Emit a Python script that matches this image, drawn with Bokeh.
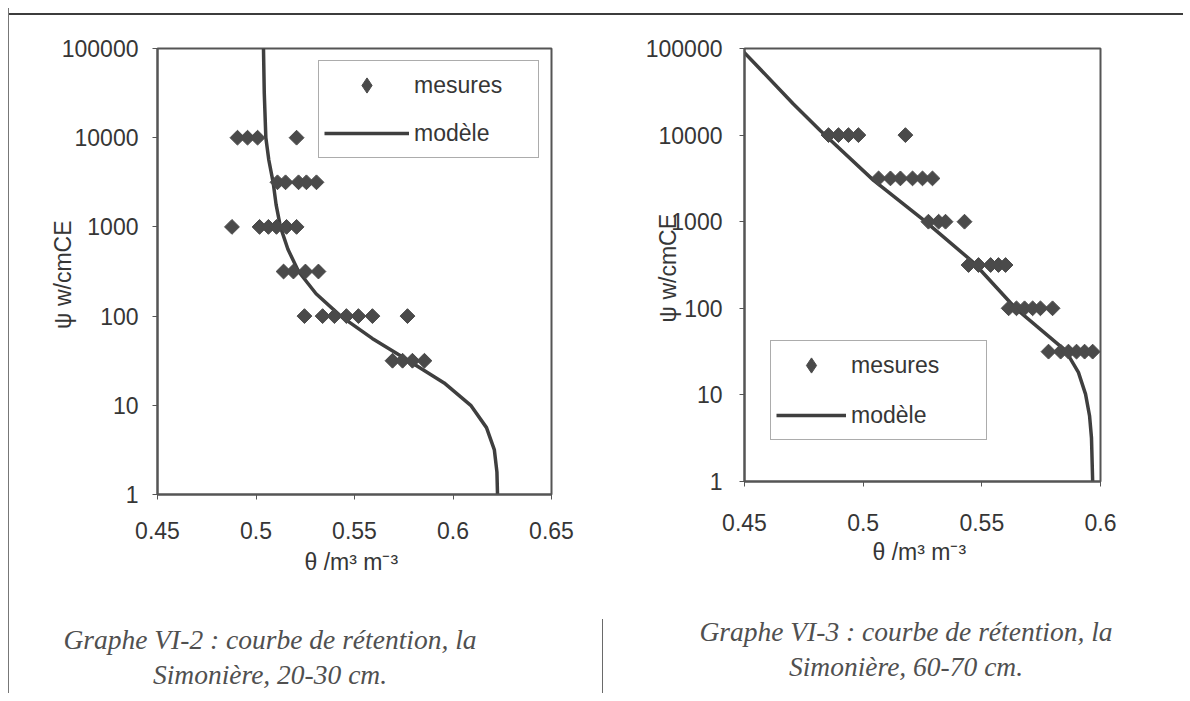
from bokeh.plotting import figure
from bokeh.models import (Range1d, FixedTicker, CustomJSTickFormatter, Legend,
                          LegendItem, Div)
from bokeh.layouts import row, column
from bokeh.embed import file_html
from bokeh.resources import INLINE

# ---------------- data ----------------
# Graphe VI-2 (20-30 cm)
meas_theta_2 = [0.4906, 0.4957, 0.5008, 0.5206,
                0.5109, 0.5150, 0.5216, 0.5256, 0.5307,
                0.4878, 0.5018, 0.5063, 0.5104, 0.5155, 0.5206,
                0.5140, 0.5190, 0.5251, 0.5317,
                0.5246, 0.5338, 0.5398, 0.5459, 0.5520, 0.5591, 0.5769,
                0.5693, 0.5744, 0.5794, 0.5855]
meas_psi_2 = [10000, 10000, 10000, 10000,
              3162, 3162, 3162, 3162, 3162,
              1000, 1000, 1000, 1000, 1000, 1000,
              316, 316, 316, 316,
              100, 100, 100, 100, 100, 100, 100,
              31.6, 31.6, 31.6, 31.6]
model_psi_2 = [1, 1.78, 3.16, 5.62, 10, 17.8, 31.6, 56.2, 100, 178, 316, 562,
               1000, 1778, 3162, 5623, 10000, 31623, 100000]
model_theta_2 = [0.6226, 0.6223, 0.6210, 0.6170, 0.6090, 0.5955, 0.5775, 0.5590,
                 0.5430, 0.5305, 0.5216, 0.5162, 0.5124, 0.5102, 0.5087, 0.5065,
                 0.5050, 0.5042, 0.5038]

# Graphe VI-3 (60-70 cm)
meas_theta_3 = [0.4854, 0.4896, 0.4938, 0.4980, 0.5178,
                0.5065, 0.5115, 0.5157, 0.5208, 0.5250, 0.5292,
                0.5275, 0.5318, 0.5347, 0.5427,
                0.5444, 0.5486, 0.5537, 0.5570, 0.5600,
                0.5613, 0.5646, 0.5680, 0.5714, 0.5747, 0.5798,
                0.5781, 0.5832, 0.5865, 0.5899, 0.5933, 0.5967]
meas_psi_3 = [10000, 10000, 10000, 10000, 10000,
              3162, 3162, 3162, 3162, 3162, 3162,
              1000, 1000, 1000, 1000,
              316, 316, 316, 316, 316,
              100, 100, 100, 100, 100, 100,
              31.6, 31.6, 31.6, 31.6, 31.6, 31.6]
model_psi_3 = [100000, 22900, 11200, 3000, 1050, 338, 100, 32.4, 18.2, 10.2,
               5.7, 3.2, 1]
model_theta_3 = [0.4483, 0.4706, 0.4820, 0.5044, 0.5254, 0.5465, 0.5642, 0.5853,
                 0.5907, 0.5937, 0.5954, 0.5962, 0.5967]

y_ticks = [1, 10, 100, 1000, 10000, 100000]
x_ticks_2 = [0.45, 0.5, 0.55, 0.6, 0.65]
x_ticks_3 = [0.45, 0.5, 0.55, 0.6]

x_label = "θ  /m³ m⁻³"
y_label = "ψ  w/cmCE"
legend_labels = ["mesures", "modèle"]
caption_2 = ["Graphe VI-2 : courbe de rétention, la", "Simonière, 20-30 cm."]
caption_3 = ["Graphe VI-3 : courbe de rétention, la", "Simonière, 60-70 cm."]

# ---------------- styling ----------------
FONT = "Liberation Sans"
TXT = "#363636"
MARK = "#4a4a4a"
LINE = "#3f3f3f"
FRAME = "#555555"
BELOW = 125


def make_chart(width, height, xr, xticks, ml, mr, mt, mx, mpsi,
               mod_x, mod_y, leg_loc, glyph_w, label_w, spacing,
               ystand, ylab_stand, xstand, xlab_stand):
    p = figure(width=width, height=height, x_range=Range1d(*xr),
               y_range=Range1d(1, 100000), y_axis_type="log",
               output_backend="svg", toolbar_location=None,
               min_border_left=ml, min_border_right=mr, min_border_top=mt,
               min_border_bottom=BELOW, background_fill_color="white",
               border_fill_color="white", outline_line_color=FRAME,
               outline_line_width=2)
    p.grid.visible = False
    fmt = CustomJSTickFormatter(code="return String(tick);")
    p.xaxis.ticker = FixedTicker(ticks=xticks)
    p.yaxis.ticker = FixedTicker(ticks=y_ticks)
    for ax in (p.xaxis[0], p.yaxis[0]):
        ax.formatter = fmt
        ax.axis_line_color = FRAME
        ax.axis_line_width = 2
        ax.major_tick_line_color = FRAME
        ax.major_tick_out = 5
        ax.major_tick_in = 0
        ax.minor_tick_out = 0
        ax.minor_tick_in = 0
        ax.major_label_text_font = FONT
        ax.major_label_text_font_size = "23px"
        ax.major_label_text_color = TXT
        ax.axis_label_text_font = FONT
        ax.axis_label_text_font_size = "23px"
        ax.axis_label_text_font_style = "normal"
        ax.axis_label_text_color = TXT
    p.xaxis.axis_label = x_label
    p.yaxis.axis_label = y_label
    p.xaxis.major_label_standoff = xstand
    p.xaxis.axis_label_standoff = xlab_stand
    p.yaxis.major_label_standoff = ystand
    p.yaxis.axis_label_standoff = ylab_stand

    ln = p.line(mod_x, mod_y, line_color=LINE, line_width=3.5)
    p.scatter(mx, mpsi, marker="square", angle=0.785398, size=10.5,
              fill_color=MARK, line_color=MARK)
    # hidden duplicate of the measurements, used only for the legend swatch
    proxy = p.scatter(mx, mpsi, marker="diamond", size=16,
                      fill_color=MARK, line_color=MARK, visible=False)
    leg = Legend(items=[LegendItem(label=legend_labels[0], renderers=[proxy]),
                        LegendItem(label=legend_labels[1], renderers=[ln])],
                 location=leg_loc, padding=5, spacing=spacing,
                 glyph_width=glyph_w, glyph_height=38, label_standoff=5,
                 label_width=label_w, label_text_font=FONT,
                 label_text_font_size="23px", label_text_color=TXT,
                 border_line_color="#5a5a5a", border_line_width=1,
                 background_fill_color="white", background_fill_alpha=1,
                 inactive_fill_alpha=0, margin=0)
    p.add_layout(leg)
    return p


# frame: left chart 446 px tall from top border 33, right chart 437 px from 29
p2 = make_chart(593, 33 + 446 + BELOW, (0.45, 0.65), x_ticks_2, 148, 51, 33,
                meas_theta_2, meas_psi_2, model_theta_2, model_psi_2,
                (161, 336), 85, 119, 10, 14, -17, 22, 7)
p3 = make_chart(581, 29 + 437 + BELOW, (0.45, 0.6), x_ticks_3, 142, 83, 29,
                meas_theta_3, meas_psi_3, model_theta_3, model_psi_3,
                (26, 41), 70, 130, 12, 17, -38, 27, 5)


def caption_div(lines, width, top, margin_left, inner_w, styles=None):
    html = ('<div style="font-family:\'Liberation Serif\'; font-style:italic; '
            'font-size:27.5px; line-height:35px; color:#505050; text-align:center; '
            'margin-top:%dpx; margin-left:%dpx; width:%dpx;">%s<br>%s</div>'
            % (top, margin_left, inner_w, lines[0], lines[1]))
    return Div(text=html, width=width, height=74, margin=0,
               styles=styles or {})


top_rule = Div(text="", width=1174, height=7, margin=0,
               styles={"border-bottom": "2px solid #3c3c3c"})
cap2 = caption_div(caption_2, 593, 3, 0, 522)
cap3 = caption_div(caption_3, 581, -5, 30, 546,
                   styles={"border-left": "1px solid #6a6a6a"})

layout = column(top_rule, row(p2, p3, spacing=0), row(cap2, cap3, spacing=0),
                spacing=0, margin=(8, 0, 0, 8),
                styles={"border-left": "1px solid #777777"})

with open("out.html", "w") as f:
    f.write(file_html(layout, INLINE))
